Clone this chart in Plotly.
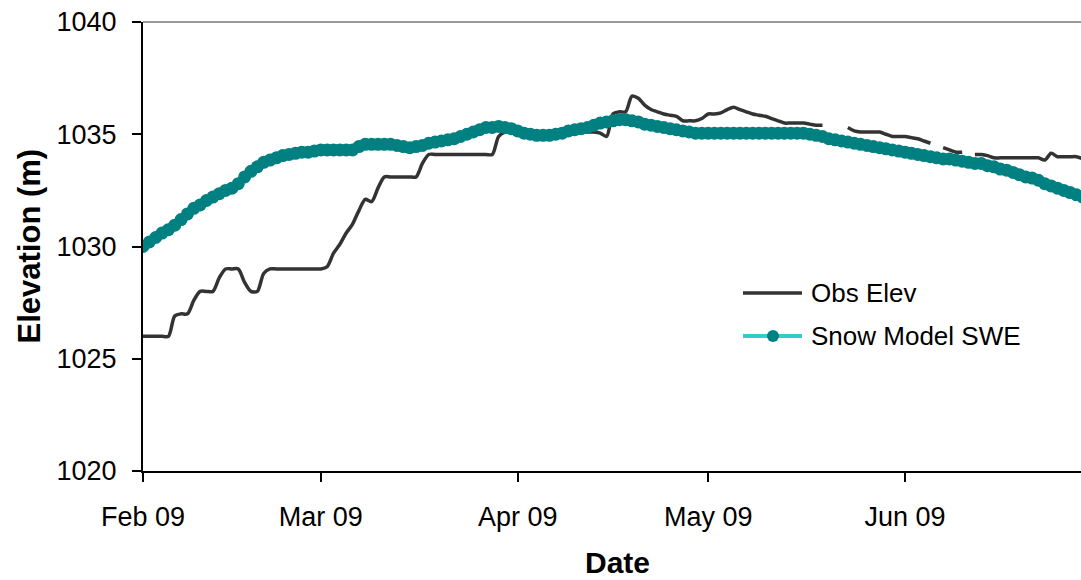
import pandas as pd
import plotly.graph_objects as go

# Daily series starting 1 Feb 2009
start_date = "2009-02-01"

# Observed surface elevation (m); None marks missing records
obs_elev = [
    1026.0, 1026.0, 1026.0, 1026.0, 1026.0, 1026.9, 1027.0, 1027.0,
    1027.6, 1028.0, 1028.0, 1028.0, 1028.6, 1029.0, 1029.0, 1029.0,
    1028.4, 1028.0, 1028.0, 1028.8, 1029.0, 1029.0, 1029.0, 1029.0,
    1029.0, 1029.0, 1029.0, 1029.0, 1029.0,
    1029.1, 1029.7, 1030.1, 1030.6, 1031.0, 1031.6, 1032.1, 1032.0,
    1032.6, 1033.1, 1033.1, 1033.1, 1033.1, 1033.1, 1033.1,
    1033.7, 1034.1, 1034.1, 1034.1, 1034.1, 1034.1, 1034.1, 1034.1,
    1034.1, 1034.1, 1034.1, 1034.1,
    1034.9, 1035.1, 1035.1, 1035.1, 1035.1, 1035.1, 1035.1, 1035.1,
    1035.1, 1035.1, 1035.1, 1035.1, 1035.1, 1035.1, 1035.1, 1035.1,
    1035.05, 1034.9, 1035.9, 1036.0, 1036.0,
    1036.7, 1036.6, 1036.3, 1036.1, 1036.0, 1035.9, 1035.85, 1035.8,
    1035.6, 1035.6, 1035.6, 1035.7,
    1035.9, 1035.9, 1035.95, 1036.1, 1036.2, 1036.1, 1036.0,
    1035.9, 1035.85, 1035.8, 1035.7, 1035.6, 1035.5, 1035.5, 1035.5,
    1035.5, 1035.45, 1035.4, 1035.4,
    None, None, None,
    1035.3, 1035.15, 1035.1, 1035.1, 1035.1, 1035.1, 1035.0, 1034.9,
    1034.9, 1034.9, 1034.85, 1034.8, 1034.7, 1034.6,
    None,
    1034.4, 1034.3, 1034.2, 1034.2,
    None,
    1034.1, 1034.1, 1034.05,
    1033.95, 1033.95, 1033.95, 1033.95, 1033.95, 1033.95, 1033.95, 1033.95,
    1033.85, 1034.15, 1034.0, 1034.0, 1034.0, 1034.0, 1033.9,
]

# Snow model SWE expressed as surface elevation (m)
swe_model = [
    1030.0, 1030.2, 1030.4, 1030.6, 1030.75, 1030.95, 1031.2, 1031.45, 1031.7, 1031.85,
    1032.05, 1032.2, 1032.35, 1032.5, 1032.6, 1032.8, 1033.1, 1033.35, 1033.55, 1033.75,
    1033.85, 1033.95, 1034.05, 1034.1, 1034.15, 1034.2, 1034.2, 1034.25, 1034.3, 1034.3,
    1034.3, 1034.3, 1034.3, 1034.3, 1034.45, 1034.55, 1034.55, 1034.55, 1034.55, 1034.55,
    1034.5, 1034.45, 1034.4, 1034.45, 1034.5, 1034.6, 1034.65, 1034.7, 1034.75, 1034.8,
    1034.9, 1035.0, 1035.1, 1035.2, 1035.3, 1035.3, 1035.35, 1035.3, 1035.25, 1035.15,
    1035.05, 1035.0, 1034.95, 1034.95, 1034.95, 1035.0, 1035.05, 1035.15, 1035.2, 1035.25,
    1035.3, 1035.4, 1035.5, 1035.55, 1035.6, 1035.65, 1035.65, 1035.6, 1035.55, 1035.45,
    1035.4, 1035.35, 1035.3, 1035.25, 1035.2, 1035.15, 1035.1, 1035.05, 1035.05, 1035.05,
    1035.05, 1035.05, 1035.05, 1035.05, 1035.05, 1035.05, 1035.05, 1035.05, 1035.05, 1035.05,
    1035.05, 1035.05, 1035.05, 1035.05, 1035.05, 1035.0, 1034.95, 1034.9, 1034.8, 1034.75,
    1034.7, 1034.65, 1034.6, 1034.55, 1034.5, 1034.45, 1034.4, 1034.35, 1034.3, 1034.25,
    1034.2, 1034.15, 1034.1, 1034.05, 1034.0, 1033.95, 1033.9, 1033.9, 1033.85, 1033.8,
    1033.75, 1033.7, 1033.7, 1033.6, 1033.55, 1033.45, 1033.4, 1033.3, 1033.2, 1033.1,
    1033.05, 1032.95, 1032.8, 1032.7, 1032.6, 1032.5, 1032.4, 1032.3, 1032.2,
]

y_ticks = [1020, 1025, 1030, 1035, 1040]
x_ticks = ["2009-02-01", "2009-03-01", "2009-04-01", "2009-05-01", "2009-06-01"]
x_tick_labels = ["Feb 09", "Mar 09", "Apr 09", "May 09", "Jun 09"]
x_range = ["2009-02-01", "2009-06-28 17:00"]

series_names = ["Obs Elev", "Snow Model SWE"]
obs_color = "#333333"
swe_line_color = "#33CCCC"
swe_marker_color = "#008080"

dates = pd.date_range(start_date, periods=len(swe_model), freq="D")

FONT = "Liberation Sans, Arial, sans-serif"

fig = go.Figure()
fig.add_trace(go.Scatter(
    x=dates, y=obs_elev, name=series_names[0], mode="lines",
    line=dict(color=obs_color, width=3.5, shape="spline", smoothing=0.8),
    connectgaps=False, showlegend=False,
))
fig.add_trace(go.Scatter(
    x=dates, y=swe_model, name=series_names[1], mode="lines+markers",
    line=dict(color=swe_line_color, width=3),
    marker=dict(color=swe_marker_color, size=13, line=dict(width=0)),
    showlegend=False,
))

W, H = 1081, 580
L, R, T, B = 143, 0, 22, 109
pw, ph = W - L - R, H - T - B


def px_x(x):
    return (x - L) / pw


def px_y(y):
    return (H - B - y) / ph


# Legend drawn as line samples with text labels
shapes = [
    dict(type="line", xref="paper", yref="paper", x0=0, x1=1, y0=1, y1=1,
         line=dict(color="#999999", width=2)),
    dict(type="line", xref="paper", yref="paper",
         x0=px_x(743), x1=px_x(802), y0=px_y(293), y1=px_y(293),
         line=dict(color=obs_color, width=3.5)),
    dict(type="line", xref="paper", yref="paper",
         x0=px_x(743), x1=px_x(802), y0=px_y(336), y1=px_y(336),
         line=dict(color=swe_line_color, width=4)),
    dict(type="circle", xref="paper", yref="paper",
         x0=px_x(767), x1=px_x(779), y0=px_y(342), y1=px_y(330),
         fillcolor=swe_marker_color, line=dict(width=0)),
]

annotations = [
    dict(text=series_names[0], xref="paper", yref="paper", x=px_x(809), y=px_y(293),
         xanchor="left", yanchor="middle", showarrow=False,
         font=dict(family=FONT, size=26, color="#000000")),
    dict(text=series_names[1], xref="paper", yref="paper", x=px_x(809), y=px_y(336),
         xanchor="left", yanchor="middle", showarrow=False,
         font=dict(family=FONT, size=26, color="#000000")),
    dict(text="<b>Elevation (m)</b>", xref="paper", yref="paper",
         x=px_x(29), y=0.5, textangle=-90, xanchor="center", yanchor="middle",
         showarrow=False, font=dict(family=FONT, size=31, color="#000000")),
    dict(text="<b>Date</b>", xref="paper", yref="paper",
         x=px_x(617), y=px_y(562), xanchor="center", yanchor="middle",
         showarrow=False, font=dict(family=FONT, size=30, color="#000000")),
]

fig.update_layout(
    width=W, height=H,
    margin=dict(l=L, r=R, t=T, b=B, autoexpand=False),
    paper_bgcolor="white", plot_bgcolor="white",
    font=dict(family=FONT, color="#000000"),
    shapes=shapes, annotations=annotations,
    showlegend=False,
)
fig.update_xaxes(
    range=x_range, tickmode="array", tickvals=x_ticks, ticktext=x_tick_labels,
    ticks="outside", ticklen=9, tickwidth=2, tickcolor="#000000",
    showline=True, linecolor="#000000", linewidth=2,
    showgrid=False, zeroline=False, ticklabelstandoff=12,
    tickfont=dict(family=FONT, size=27, color="#000000"),
)
fig.update_yaxes(
    range=[1020, 1040], tickmode="array", tickvals=y_ticks,
    ticks="outside", ticklen=9, tickwidth=2, tickcolor="#000000",
    showline=True, linecolor="#000000", linewidth=2,
    showgrid=False, zeroline=False, ticklabelstandoff=10,
    tickfont=dict(family=FONT, size=27, color="#000000"),
)

fig.write_html("out.html")
